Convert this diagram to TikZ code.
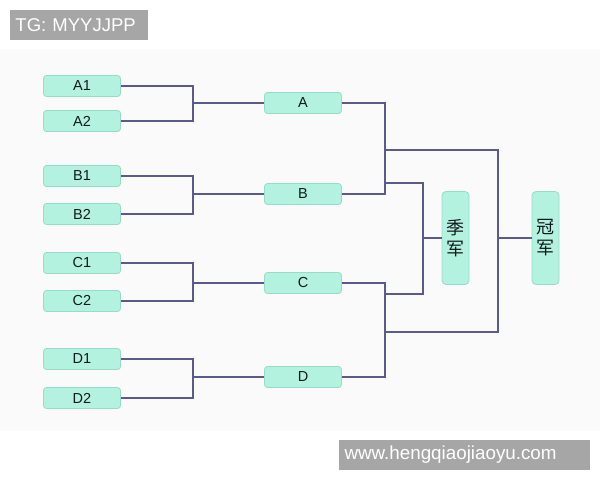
\documentclass[tikz,border=0pt]{standalone}
\usepackage{fontspec}
\setmainfont{Liberation Sans}
\newfontfamily\cjk{Noto Sans CJK SC}
\definecolor{boxfill}{HTML}{B3F2DF}
\definecolor{boxline}{HTML}{96DCC6}
\definecolor{wire}{HTML}{5A5A8C}
\definecolor{bgpanel}{HTML}{FAFAFA}
\definecolor{tagfill}{HTML}{A6A6A6}
\definecolor{txt}{HTML}{111A1A}
\begin{document}
\begin{tikzpicture}[x=1pt,y=-1pt,
  team/.style={draw=boxline, fill=boxfill, rounded corners=3pt, line width=0.8pt,
    minimum width=77pt, minimum height=21pt, inner sep=0pt, text=txt,
    font=\fontsize{14.5}{16}\selectfont},
  final/.style={draw=boxline, fill=boxfill, rounded corners=4pt, line width=0.8pt,
    minimum width=27pt, minimum height=93pt, inner sep=0pt, text=txt, align=center,
    font=\cjk\fontsize{18}{21}\selectfont},
  wireline/.style={draw=wire, line width=1.4pt},
  tag/.style={fill=tagfill, text=white, inner ysep=0pt, inner xsep=5.5pt, align=left,
    minimum height=30pt}
]
\useasboundingbox (0,0) rectangle (600,480);
\fill[white] (0,0) rectangle (600,480);
\fill[bgpanel] (0,49) rectangle (600,431);

% tags
\node[tag, text width=127pt, font=\fontsize{18.5}{20}\selectfont] (tg) at (79,25) {TG: MYYJJPP};
\node[tag, text width=240pt, font=\fontsize{18.8}{20}\selectfont] (web) at (464.5,455) {www.hengqiaojiaoyu.com};

% first round
\node[team] (A1) at (82,86) {A1};
\node[team] (A2) at (82,121) {A2};
\node[team] (B1) at (82,176) {B1};
\node[team] (B2) at (82,214) {B2};
\node[team] (C1) at (82,263) {C1};
\node[team] (C2) at (82,301) {C2};
\node[team] (D1) at (82,359) {D1};
\node[team] (D2) at (82,398) {D2};

% second round
\node[team] (A) at (303,103) {A};
\node[team] (B) at (303,194) {B};
\node[team] (C) at (303,283) {C};
\node[team] (D) at (303,377) {D};

% finals
\node[final] (third) at (455.5,238) {季\\军};
\node[final] (champ) at (545.5,238) {冠\\军};

% junctions
\coordinate (jA) at (193,103);
\coordinate (jB) at (193,194);
\coordinate (jC) at (193,283);
\coordinate (jD) at (193,377);
\coordinate (jAB) at (385,150);
\coordinate (jCD) at (385,332);
\coordinate (lAB) at (385,183);
\coordinate (lCD) at (385,294);
\coordinate (j3) at (423,238);
\coordinate (jF) at (498,238);

\draw[wireline] (A1.east) -| (jA) |- (A.west);
\draw[wireline] (A2.east) -| (jA);
\draw[wireline] (B1.east) -| (jB) |- (B.west);
\draw[wireline] (B2.east) -| (jB);
\draw[wireline] (C1.east) -| (jC) |- (C.west);
\draw[wireline] (C2.east) -| (jC);
\draw[wireline] (D1.east) -| (jD) |- (D.west);
\draw[wireline] (D2.east) -| (jD);

\draw[wireline] (A.east) -| (jAB);
\draw[wireline] (B.east) -| (jAB);
\draw[wireline] (C.east) -| (jCD);
\draw[wireline] (D.east) -| (jCD);

\draw[wireline] (jAB) -| (jF) |- (champ.west);
\draw[wireline] (jCD) -| (jF);
\draw[wireline] (lAB) -| (j3) |- (third.west);
\draw[wireline] (lCD) -| (j3);
\end{tikzpicture}
\end{document}
